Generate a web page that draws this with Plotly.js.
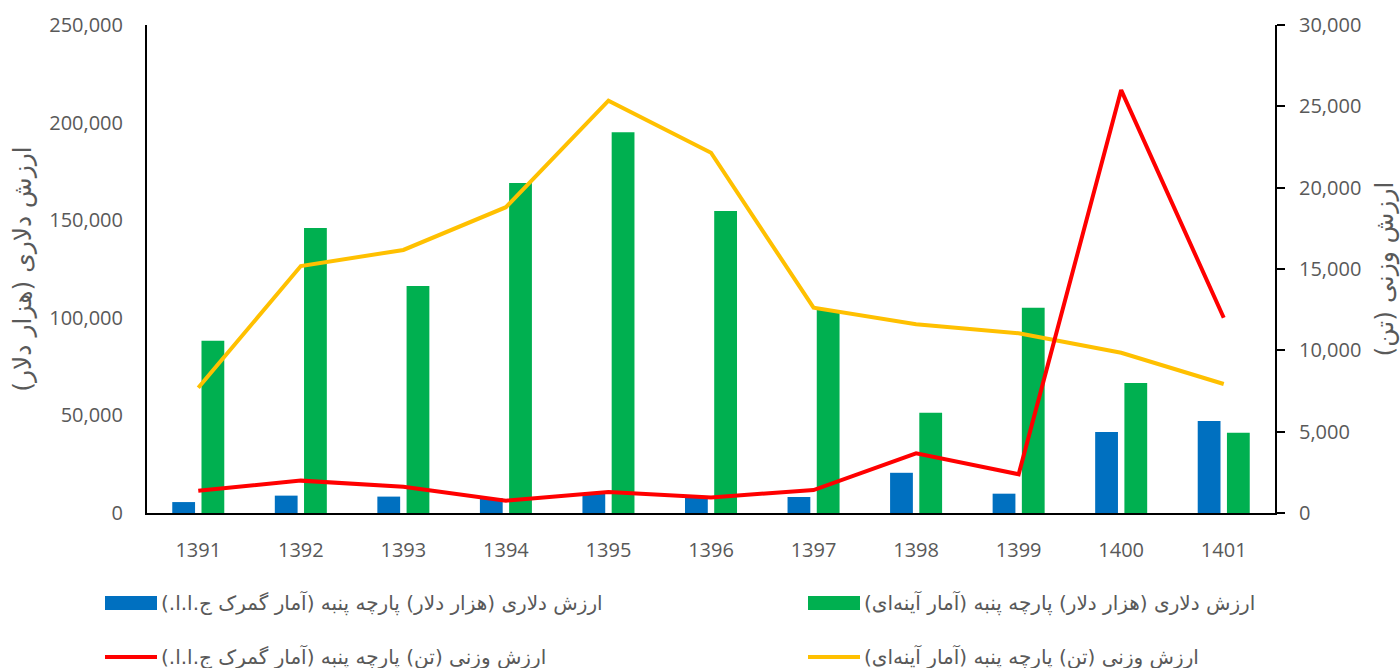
<!DOCTYPE html>
<html>
<head>
<meta charset="utf-8">
<script src="https://cdn.plot.ly/plotly-3.0.1.min.js"></script>
<style>html,body{margin:0;padding:0;background:#fff;}#chart{width:1400px;height:668px;}</style>
</head>
<body>
<div id="chart"></div>
<script>
// ---- data ----
const years = ['1391','1392','1393','1394','1395','1396','1397','1398','1399','1400','1401'];
const valueCustoms = [5600, 8900, 8400, 7600, 10100, 8300, 8200, 20600, 9900, 41500, 47100];
const valueMirror = [88300, 146000, 116300, 169000, 195000, 154700, 104000, 51400, 105200, 66600, 41100];
const weightCustoms = [1370, 1990, 1620, 760, 1290, 960, 1410, 3670, 2380, 26000, 12000];
const weightMirror = [7700, 15180, 16170, 18800, 25350, 22150, 12620, 11600, 11050, 9850, 7930];

const nameValueCustoms = 'ارزش دلاری (هزار دلار) پارچه پنبه (آمار گمرک ج.ا.ا.)';
const nameValueMirror = 'ارزش دلاری (هزار دلار) پارچه پنبه (آمار آینه‌ای)';
const nameWeightCustoms = 'ارزش وزنی (تن) پارچه پنبه (آمار گمرک ج.ا.ا.)';
const nameWeightMirror = 'ارزش وزنی (تن) پارچه پنبه (آمار آینه‌ای)';
const leftTitle = 'ارزش دلاری (هزار دلار)';
const rightTitle = 'ارزش وزنی (تن)';

const colors = {blue:'#0070C0', green:'#00B050', red:'#FF0000', yellow:'#FFC000'};
const rtl = s => '\u200F' + s + '\u200F';

const W = 1400, H = 668;
const M = {l:147, r:125, t:25, b:155};
const PW = W - M.l - M.r, PH = H - M.t - M.b;
const px = x => (x - M.l) / PW;
const py = y => (H - M.b - y) / PH;

const traces = [
  {type:'bar', x:years, y:valueCustoms, name:nameValueCustoms, marker:{color:colors.blue}, yaxis:'y', showlegend:false},
  {type:'bar', x:years, y:valueMirror, name:nameValueMirror, marker:{color:colors.green}, yaxis:'y', showlegend:false},
  {type:'scatter', mode:'lines', x:years, y:weightMirror, name:nameWeightMirror, line:{color:colors.yellow, width:4}, yaxis:'y2', showlegend:false},
  {type:'scatter', mode:'lines', x:years, y:weightCustoms, name:nameWeightCustoms, line:{color:colors.red, width:4}, yaxis:'y2', showlegend:false}
];

const tickFont = {family:'Open Sans, sans-serif', size:20, color:'#595959'};
const arFont = {family:'DejaVu Sans, Noto Sans, sans-serif', size:20, color:'#595959'};
const titleFont = {family:'DejaVu Sans, sans-serif', size:25, color:'#595959'};

// custom legend (2 x 2)
const legendItems = [
  {name:nameValueCustoms, kind:'rect', color:colors.blue, x:105, y:603},
  {name:nameValueMirror, kind:'rect', color:colors.green, x:808, y:603},
  {name:nameWeightCustoms, kind:'line', color:colors.red, x:105, y:657},
  {name:nameWeightMirror, kind:'line', color:colors.yellow, x:808, y:657}
];
const shapes = [], annotations = [];
legendItems.forEach(it => {
  if (it.kind === 'rect') {
    shapes.push({type:'rect', xref:'paper', yref:'paper', x0:px(it.x), x1:px(it.x+52), y0:py(it.y-7), y1:py(it.y+7), fillcolor:it.color, line:{width:0}});
  } else {
    shapes.push({type:'line', xref:'paper', yref:'paper', x0:px(it.x), x1:px(it.x+52), y0:py(it.y), y1:py(it.y), line:{color:it.color, width:4}});
  }
  annotations.push({xref:'paper', yref:'paper', x:px(it.x+54), y:py(it.y), xanchor:'left', yanchor:'middle', text:rtl(it.name), showarrow:false, font:arFont});
});

const layout = {
  width:W, height:H,
  margin:{l:M.l, r:M.r, t:M.t, b:M.b, pad:0},
  paper_bgcolor:'#fff', plot_bgcolor:'#fff',
  barmode:'group', bargap:0.43, bargroupgap:0.22,
  showlegend:false,
  xaxis:{type:'category', showgrid:false, zeroline:false, showline:true, linecolor:'#000', linewidth:2, ticks:'', tickfont:tickFont, ticklabelstandoff:18, range:[-0.5,10.5]},
  yaxis:{range:[0,250000], dtick:50000, tickformat:',d', showgrid:false, zeroline:false, showline:true, linecolor:'#000', linewidth:2, ticks:'', tickfont:tickFont, ticklabelstandoff:18,
         title:{text:rtl(leftTitle), font:titleFont, standoff:10}},
  yaxis2:{range:[0,30000], dtick:5000, tickformat:',d', overlaying:'y', side:'right', showgrid:false, zeroline:false, showline:true, linecolor:'#000', linewidth:2, ticks:'outside', ticklen:8, tickwidth:2, tickcolor:'#000', tickfont:tickFont, ticklabelstandoff:10,
         title:{text:rtl(rightTitle), font:titleFont, standoff:16}},
  shapes:shapes, annotations:annotations
};

Plotly.newPlot('chart', traces, layout, {displayModeBar:false, staticPlot:true});
</script>
</body>
</html>
